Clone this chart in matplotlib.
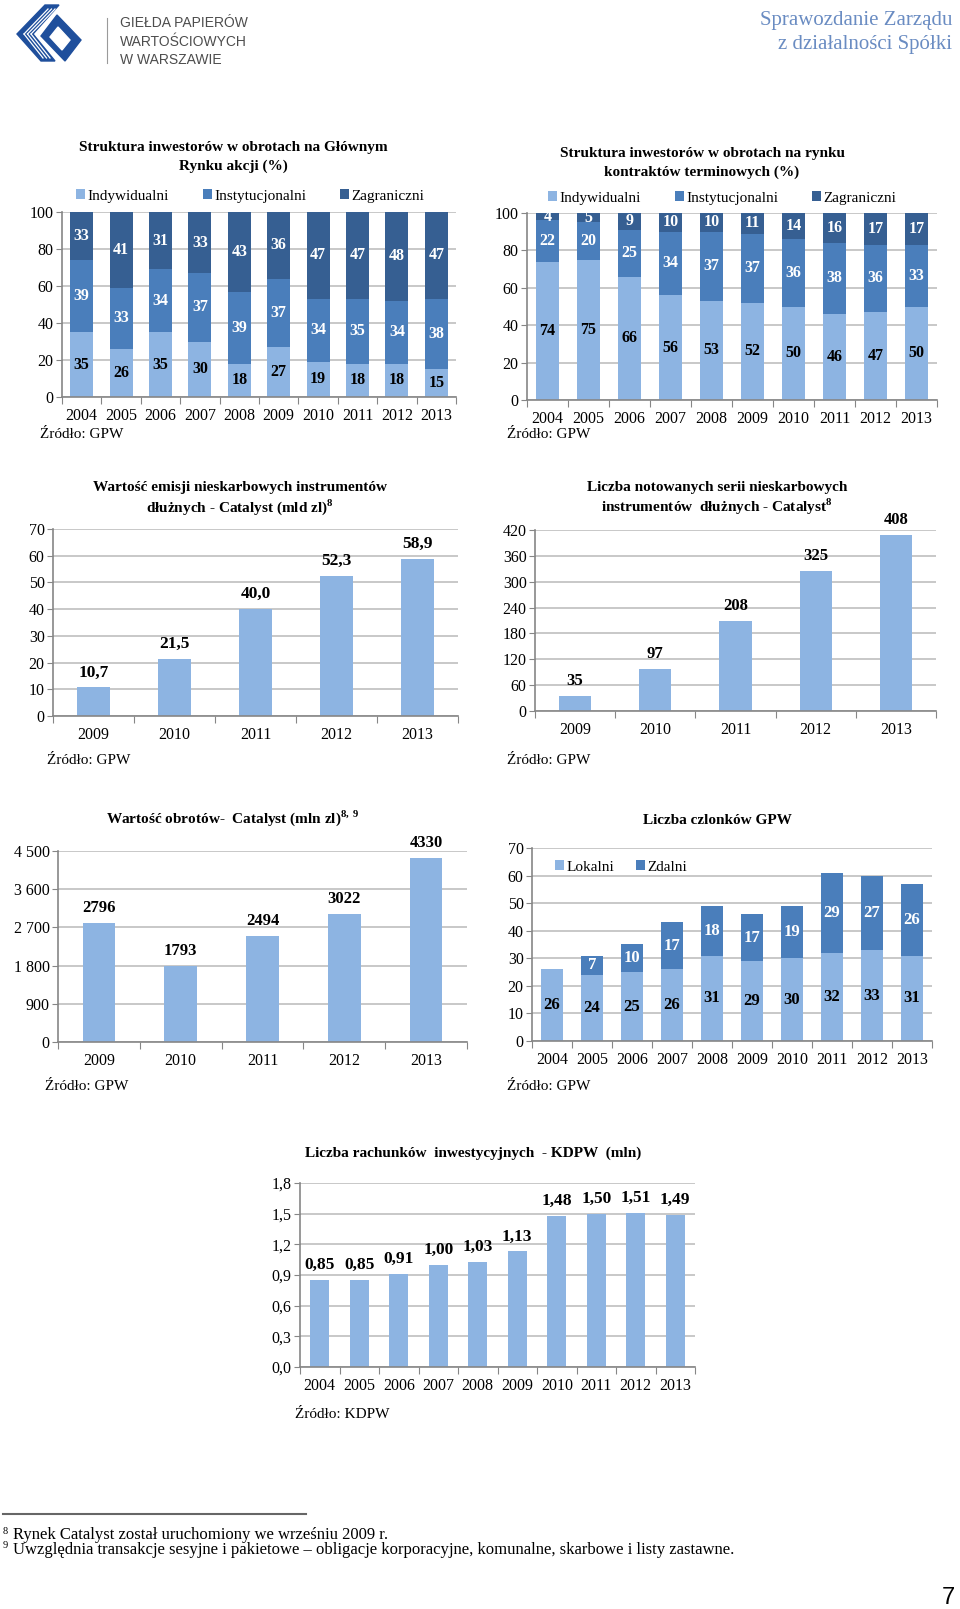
import numpy as np
import matplotlib.pyplot as plt
from matplotlib.patches import Polygon

plt.rcParams['font.family'] = ['Liberation Serif', 'DejaVu Serif']
plt.rcParams['mathtext.fontset'] = 'custom'
plt.rcParams['mathtext.rm'] = 'Liberation Serif'
plt.rcParams['mathtext.bf'] = 'Liberation Serif:bold'

# ---- data ----
years10 = ['2004', '2005', '2006', '2007', '2008', '2009', '2010', '2011', '2012', '2013']
years5 = ['2009', '2010', '2011', '2012', '2013']

# Struktura inwestorow - rynek akcji (%)
akcje_ind = [35, 26, 35, 30, 18, 27, 19, 18, 18, 15]
akcje_inst = [39, 33, 34, 37, 39, 37, 34, 35, 34, 38]
akcje_zagr = [33, 41, 31, 33, 43, 36, 47, 47, 48, 47]

# Struktura inwestorow - kontrakty terminowe (%)
kontr_ind = [74, 75, 66, 56, 53, 52, 50, 46, 47, 50]
kontr_inst = [22, 20, 25, 34, 37, 37, 36, 38, 36, 33]
kontr_zagr = [4, 5, 9, 10, 10, 11, 14, 16, 17, 17]

# Catalyst
emisja = [10.7, 21.5, 40.0, 52.3, 58.9]
serie = [35, 97, 208, 325, 408]
obroty = [2796, 1793, 2494, 3022, 4330]

# Czlonkowie GPW
lokalni = [26, 24, 25, 26, 31, 29, 30, 32, 33, 31]
zdalni = [0, 7, 10, 17, 18, 17, 19, 29, 27, 26]

# Rachunki KDPW (mln)
rachunki = [0.85, 0.85, 0.91, 1.00, 1.03, 1.13, 1.48, 1.50, 1.51, 1.49]

LIGHT = '#8DB4E2'
MID = '#4A7EBB'
DARK = '#365F92'
GRID = '#BFBFBF'
SPINE = '#868686'

W, H = 960, 1609
fig = plt.figure(figsize=(W / 100, H / 100), dpi=100)


def fx(x):
    return x / W


def fy(y):
    return 1 - y / H


def make_ax(l, r, t, b, cats, ymax, step, yfmt, ysize=11.5, xsize=11.5):
    ax = fig.add_axes([fx(l), fy(b), (r - l) / W, (b - t) / H])
    n = len(cats)
    ax.set_xlim(-0.5, n - 0.5)
    ax.set_ylim(0, ymax)
    yt = np.arange(0, ymax + step / 2, step)
    ax.set_yticks(yt)
    ax.set_yticklabels([yfmt(v) for v in yt], fontsize=ysize)
    ax.set_xticks(np.arange(n + 1) - 0.5)
    ax.set_xticklabels([''] * (n + 1))
    ax.set_xticks(np.arange(n), minor=True)
    ax.set_xticklabels(cats, minor=True, fontsize=xsize)
    ax.tick_params(axis='x', which='major', length=5, color=SPINE, direction='out')
    ax.tick_params(axis='x', which='minor', length=0, pad=8)
    ax.tick_params(axis='y', length=4, color=SPINE, pad=2)
    ax.yaxis.grid(True, color=GRID, lw=1.2)
    ax.set_axisbelow(True)
    for s in ['top', 'right']:
        ax.spines[s].set_visible(False)
    for s in ['left', 'bottom']:
        ax.spines[s].set_color(SPINE)
        ax.spines[s].set_linewidth(1.2)
    return ax


def stack_labels(ax, vals, bottoms, color, ymax, size=11.5):
    for i, (v, b) in enumerate(zip(vals, bottoms)):
        if v == 0:
            continue
        top = min(b + v, ymax)
        ax.text(i, (b + top) / 2, str(v), ha='center', va='center',
                color=color, fontsize=size, fontweight='bold')


def top_labels(ax, vals, fmt, size=11.5):
    for i, v in enumerate(vals):
        ax.annotate(fmt(v), (i, v), xytext=(0, 5), textcoords='offset points',
                    ha='center', va='bottom', fontsize=size, fontweight='bold')


def title(x, y, s, size=11):
    fig.text(fx(x), fy(y), s, ha='center', va='center', fontsize=size, fontweight='bold')


def source(x, y, s='Źródło: GPW'):
    fig.text(fx(x), fy(y), s, ha='left', va='center', fontsize=11)


def stacked3(ax, ind, inst, zagr, ymax, cx, cy):
    x = np.arange(len(ind))
    b1 = np.array(ind)
    b2 = b1 + np.array(inst)
    ax.bar(x, ind, width=0.58, color=LIGHT, label='Indywidualni')
    ax.bar(x, inst, width=0.58, bottom=b1, color=MID, label='Instytucjonalni')
    ax.bar(x, zagr, width=0.58, bottom=b2, color=DARK, label='Zagraniczni')
    stack_labels(ax, ind, [0] * len(ind), 'black', ymax)
    stack_labels(ax, inst, b1, 'white', ymax)
    stack_labels(ax, zagr, b2, 'white', ymax)
    ax.legend(loc='center', bbox_to_anchor=(fx(cx), fy(cy)), bbox_transform=fig.transFigure,
              ncol=3, frameon=False, fontsize=11, handlelength=0.6, handleheight=0.6,
              handletextpad=0.15, columnspacing=2.2, borderpad=0)


# ---- header ----
lax = fig.add_axes([fx(15), fy(65), 70 / W, 62 / H])
lax.set_xlim(0, 70)
lax.set_ylim(0, 62)
lax.axis('off')
BLUE = '#1F4F9C'
lax.add_patch(Polygon([[30, 60], [44, 60], [18, 31], [40, 4], [26, 4], [2, 31]], color=BLUE))
lax.add_patch(Polygon([[42, 50], [66, 25], [50, 4], [26, 29]], color=BLUE))
lax.add_patch(Polygon([[43, 38], [55, 25], [47, 15], [35, 28]], color='white'))
for k in range(3):
    d = 3.5 * k
    lax.plot([33 + d, 9 + d], [56, 31], color='white', lw=0.9)
    lax.plot([9 + d, 28 + d], [31, 7], color='white', lw=0.9)
fig.add_artist(plt.Line2D([fx(107), fx(107)], [fy(18), fy(63)], color='#9a9a9a', lw=0.8))
for txt, yy in [('GIEŁDA PAPIERÓW', 23), ('WARTOŚCIOWYCH', 42), ('W WARSZAWIE', 60)]:
    fig.text(fx(120), fy(yy), txt, ha='left', va='center', fontsize=10,
             family=['Liberation Sans', 'DejaVu Sans'], color='#4d4d4d')
fig.text(fx(952), fy(21), 'Sprawozdanie Zarządu', ha='right', va='center', fontsize=15, color='#6A8CC2')
fig.text(fx(952), fy(44), 'z działalności Spółki', ha='right', va='center', fontsize=15, color='#6A8CC2')

# ---- chart 1 ----
ax1 = make_ax(62, 456, 212, 397, years10, 100, 20, lambda v: f'{int(v)}')
stacked3(ax1, akcje_ind, akcje_inst, akcje_zagr, 100, 250, 196)
title(233, 148, 'Struktura inwestorów w obrotach na Głównym')
title(233, 166, 'Rynku akcji (%)')
source(40, 435)

# ---- chart 2 ----
ax2 = make_ax(527, 937, 213, 400, years10, 100, 20, lambda v: f'{int(v)}')
stacked3(ax2, kontr_ind, kontr_inst, kontr_zagr, 100, 722, 198)
title(702, 153, 'Struktura inwestorów w obrotach na rynku')
title(702, 172, 'kontraktów terminowych (%)')
source(507, 435)

# ---- chart 3 ----
ax3 = make_ax(53, 458, 529, 716, years5, 70, 10, lambda v: f'{int(v)}')
ax3.bar(np.arange(5), emisja, width=0.41, color=LIGHT)
top_labels(ax3, emisja, lambda v: f'{v:.1f}'.replace('.', ','), size=12.5)
title(240, 488, 'Wartość emisji nieskarbowych instrumentów')
title(240, 507, r'dłużnych - Catalyst (mld zl)$^{\mathbf{8}}$')
source(47, 760)

# ---- chart 4 ----
ax4 = make_ax(535, 936, 530, 711, years5, 420, 60, lambda v: f'{int(v)}')
ax4.bar(np.arange(5), serie, width=0.4, color=LIGHT)
top_labels(ax4, serie, lambda v: f'{v}', size=12)
title(717, 488, 'Liczba notowanych serii nieskarbowych')
title(717, 507, r'instrumentów  dłużnych - Catalyst$^{\mathbf{8}}$')
source(507, 760)

# ---- chart 5 ----
ax5 = make_ax(58, 467, 851, 1042, years5, 4500, 900, lambda v: f'{int(v):,}'.replace(',', ' '))
ax5.bar(np.arange(5), obroty, width=0.4, color=LIGHT)
top_labels(ax5, obroty, lambda v: f'{v}', size=12)
title(233, 818, r'Wartość obrotów-  Catalyst (mln zl)$^{\mathbf{8,\,9}}$')
source(45, 1087)

# ---- chart 6 ----
ax6 = make_ax(532, 932, 848, 1041, years10, 70, 10, lambda v: f'{int(v)}')
x6 = np.arange(10)
ax6.bar(x6, lokalni, width=0.54, color=LIGHT, label='Lokalni')
ax6.bar(x6, zdalni, width=0.54, bottom=lokalni, color=MID, label='Zdalni')
stack_labels(ax6, lokalni, [0] * 10, 'black', 70, size=12)
stack_labels(ax6, zdalni, lokalni, 'white', 70, size=12)
ax6.legend(loc='center', bbox_to_anchor=(fx(621), fy(867)), bbox_transform=fig.transFigure,
           ncol=2, frameon=False, fontsize=11, handlelength=0.6, handleheight=0.6,
           handletextpad=0.15, columnspacing=1.4, borderpad=0)
title(717, 821, 'Liczba czlonków GPW')
source(507, 1087)

# ---- chart 7 ----
ax7 = make_ax(300, 695, 1183, 1367, years10, 1.8, 0.3, lambda v: f'{v:.1f}'.replace('.', ','))
ax7.bar(np.arange(10), rachunki, width=0.48, color=LIGHT)
top_labels(ax7, rachunki, lambda v: f'{v:.2f}'.replace('.', ','), size=12.5)
title(473, 1153, 'Liczba rachunków  inwestycyjnych  - KDPW  (mln)')
source(295, 1415, 'Źródło: KDPW')

# ---- footnotes ----
fig.add_artist(plt.Line2D([fx(3), fx(306)], [fy(1514), fy(1514)], color='#666666', lw=1.5))
fig.text(fx(3), fy(1531), '8', ha='left', va='center', fontsize=7.5)
fig.text(fx(13), fy(1535), 'Rynek Catalyst został uruchomiony we wrześniu 2009 r.', ha='left', va='center', fontsize=12)
fig.text(fx(3), fy(1546), '9', ha='left', va='center', fontsize=7.5)
fig.text(fx(13), fy(1550), 'Uwzględnia transakcje sesyjne i pakietowe – obligacje korporacyjne, komunalne, skarbowe i listy zastawne.',
         ha='left', va='center', fontsize=12)
fig.text(fx(955), fy(1598), '7', ha='right', va='center', fontsize=17, family=['Liberation Sans', 'DejaVu Sans'])

plt.savefig('out.png', dpi=100)
